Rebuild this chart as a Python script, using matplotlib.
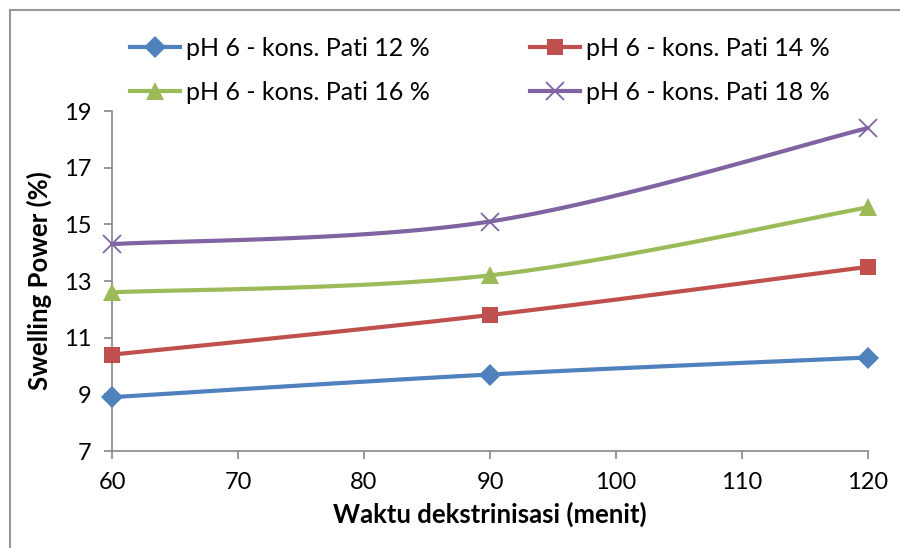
import numpy as np
import matplotlib
matplotlib.use("Agg")
import matplotlib.pyplot as plt
from matplotlib.lines import Line2D

plt.rcParams["font.family"] = ["Lato", "DejaVu Sans"]

waktu = [60, 90, 120]
labels = ["pH 6 - kons. Pati 12 %", "pH 6 - kons. Pati 14 %",
          "pH 6 - kons. Pati 16 %", "pH 6 - kons. Pati 18 %"]
pati_12 = [8.9, 9.7, 10.3]
pati_14 = [10.4, 11.8, 13.5]
pati_16 = [12.6, 13.2, 15.6]
pati_18 = [14.3, 15.1, 18.4]

series = [pati_12, pati_14, pati_16, pati_18]
colors = ["#4F81BD", "#C0504D", "#9BBB59", "#8064A2"]
markers = ["D", "s", "^", "x"]
msizes = [11, 12, 13, 13]


def smooth(xs, ys, n=60):
    # Excel-like smoothed line: cubic Bezier segments with Catmull-Rom tangents
    p = np.column_stack([xs, ys]).astype(float)
    ext = np.vstack([p[0], p, p[-1]])
    out = []
    t = np.linspace(0, 1, n)[:, None]
    for i in range(len(p) - 1):
        p0, p1, p2, p3 = ext[i], ext[i + 1], ext[i + 2], ext[i + 3]
        c1 = p1 + (p2 - p0) / 6
        c2 = p2 - (p3 - p1) / 6
        seg = ((1 - t) ** 3) * p1 + 3 * ((1 - t) ** 2) * t * c1 + 3 * (1 - t) * t ** 2 * c2 + t ** 3 * p2
        out.append(seg)
    out = np.vstack(out)
    return out[:, 0], out[:, 1]


fig = plt.figure(figsize=(9, 5.48), dpi=100)
ax = fig.add_axes([112 / 900, 1 - 451 / 548, 756 / 900, 340 / 548])

handles = []
for ys, c, m, ms, lab in zip(series, colors, markers, msizes, labels):
    sx, sy = smooth(waktu, ys)
    ax.plot(sx, sy, color=c, lw=3, solid_capstyle="round", clip_on=False)
    mew = 1.3 if m == "x" else 0
    ax.plot(waktu, ys, ls="none", marker=m, ms=ms, color=c, mew=mew, clip_on=False, zorder=3)
    handles.append(Line2D([], [], color=c, lw=3, marker=m, ms=ms, mew=mew))

ax.set_xlim(60, 120)
ax.set_ylim(7, 19)
ax.set_xticks(range(60, 121, 10))
ax.set_yticks(range(7, 20, 2))
for s in ["top", "right"]:
    ax.spines[s].set_visible(False)
for s in ["left", "bottom"]:
    ax.spines[s].set_color("#888888")
    ax.spines[s].set_linewidth(1.2)
ax.tick_params(direction="out", length=6, width=1.2, color="#888888",
               labelsize=17, labelcolor="black", pad=9)
ax.set_xlabel("Waktu dekstrinisasi (menit)", fontsize=18.5, fontweight="bold", labelpad=6)
ax.set_ylabel("Swelling Power (%)", fontsize=18.5, fontweight="bold", labelpad=8)

# legend filled row by row: column 1 gets entries 0,2 and column 2 gets 1,3
order = [0, 2, 1, 3]
fig.legend(handles=[handles[i] for i in order], labels=[labels[i] for i in order],
           ncol=2, frameon=False,
           loc="upper left", bbox_to_anchor=(107 / 900, 1 - 14 / 548),
           fontsize=18, handlelength=2.0, handletextpad=0.25,
           columnspacing=4.0, labelspacing=0.85)

# outer chart border (partially cropped)
fig.add_artist(Line2D([10 / 900, 10 / 900], [0, 1 - 10 / 548], color="#999999", lw=1.5))
fig.add_artist(Line2D([10 / 900, 1], [1 - 10 / 548, 1 - 10 / 548], color="#999999", lw=1.5))

fig.savefig("out.png", dpi=100)
